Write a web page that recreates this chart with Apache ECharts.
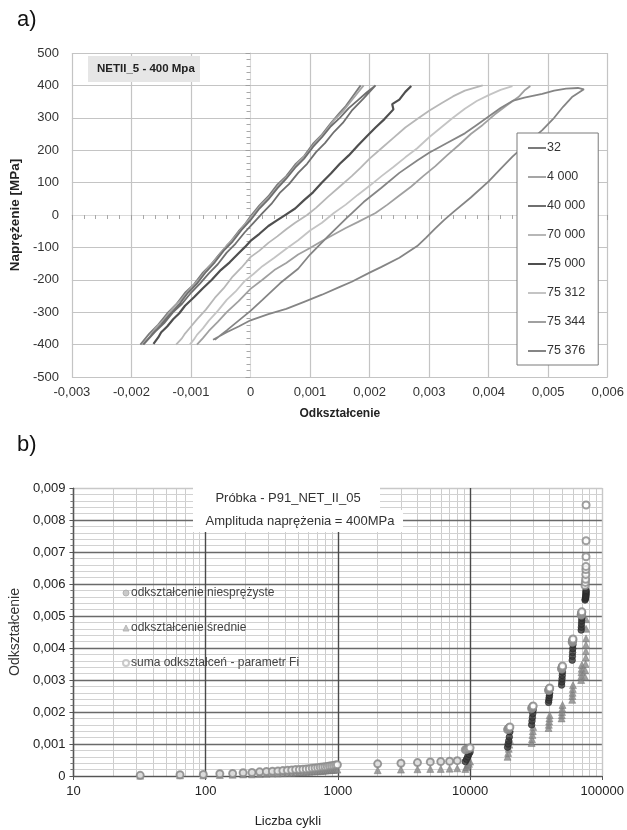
<!DOCTYPE html>
<html><head><meta charset="utf-8">
<script src="https://cdn.jsdelivr.net/npm/echarts@6/dist/echarts.min.js"></script>
<style>html,body{margin:0;padding:0;background:#fff}#c{width:627px;height:830px}</style>
</head><body><div id="c"></div>
<script>
// ---------- chart a) : hysteresis branches [strain, stress MPa] ----------
const legendA = ['32', '4 000', '40 000', '70 000', '75 000', '75 312', '75 344', '75 376'];
const colorsA = ['#7b7b7b', '#a5a5a5', '#6f6f6f', '#b7b7b7', '#4f4f4f', '#c4c4c4', '#a0a0a0', '#858585'];
const c32 = [[-0.00185,-400],[-0.0017,-366],[-0.00155,-338],[-0.0014,-304],[-0.00125,-276],[-0.0011,-240],[-0.00095,-214],[-0.0008,-178],[-0.00065,-150],[-0.0005,-116],[-0.00035,-86],[-0.0002,-50],[-0.0001,-30],[0,-4],[0.00015,30],[0.0003,58],[0.00045,94],[0.0006,120],[0.00075,156],[0.0009,182],[0.00105,220],[0.0012,248],[0.00135,284],[0.0015,316],[0.0016,336],[0.0017,362],[0.00185,400]];
const c4000 = [[-0.00182,-400],[-0.0017,-378],[-0.0016,-350],[-0.00145,-322],[-0.0013,-286],[-0.00115,-258],[-0.001,-224],[-0.00085,-196],[-0.0007,-160],[-0.00055,-130],[-0.0004,-94],[-0.00025,-66],[-0.0001,-30],[0.00005,2],[0.0002,36],[0.00035,62],[0.0005,98],[0.00065,126],[0.0008,162],[0.00095,190],[0.0011,226],[0.00125,256],[0.0014,292],[0.00155,320],[0.0017,354],[0.0019,400]];
const c40000 = [[-0.0018,-400],[-0.0016,-360],[-0.00145,-334],[-0.0013,-300],[-0.00115,-274],[-0.001,-240],[-0.00085,-212],[-0.0007,-180],[-0.00055,-152],[-0.0004,-116],[-0.00025,-88],[-0.0001,-54],[0.00005,-24],[0.0002,6],[0.00035,34],[0.0005,70],[0.00065,96],[0.0008,130],[0.00095,158],[0.0011,194],[0.00125,222],[0.0014,256],[0.00155,284],[0.0017,322],[0.0019,360],[0.0021,400],
  [0.00195,378],[0.0018,354],[0.00165,330],[0.0015,300],[0.00135,274],[0.0012,240],[0.00105,210],[0.0009,174],[0.00075,146],[0.0006,112],[0.00045,82],[0.0003,48],[0.00015,20],[0,-16],[-0.00015,-46],[-0.0003,-82],[-0.00045,-110],[-0.0006,-146],[-0.00075,-176],[-0.0009,-212],[-0.00105,-240],[-0.0012,-276],[-0.00135,-306],[-0.0015,-338],[-0.00165,-368],[-0.0018,-400]];
const c70000 = [[-0.00125,-400],[-0.00115,-380],[-0.0011,-366],[-0.001,-344],[-0.0009,-322],[-0.00075,-292],[-0.0006,-256],[-0.00045,-226],[-0.0003,-190],[-0.00015,-162],[0,-130],[0.00015,-110],[0.0003,-86],[0.00045,-66],[0.0006,-44],[0.00075,-24],[0.00095,0],[0.0011,22],[0.0013,56],[0.0015,88],[0.0017,120],[0.00185,146],[0.002,174],[0.0022,206],[0.0024,238],[0.0026,270],[0.0028,296],[0.003,322],[0.0032,344],[0.0034,366],[0.0036,384],[0.0039,400]];
const c75000 = [[-0.00163,-398],[-0.00155,-378],[-0.0015,-362],[-0.0014,-344],[-0.0013,-322],[-0.0012,-304],[-0.0011,-280],[-0.00095,-254],[-0.0008,-226],[-0.00065,-200],[-0.0005,-170],[-0.00035,-146],[-0.0002,-118],[-0.0001,-100],[0,-80],[0.00015,-58],[0.0003,-34],[0.00045,-16],[0.0006,2],[0.00075,20],[0.0009,46],[0.00105,70],[0.0012,100],[0.00135,128],[0.0015,158],[0.00165,184],[0.0018,214],[0.00195,242],[0.0021,270],[0.00225,296],[0.0024,326],[0.00238,342],[0.0025,356],[0.0026,380],[0.0027,398]];
const c75312 = [[-0.00102,-400],[-0.00095,-384],[-0.0009,-370],[-0.0008,-350],[-0.0007,-326],[-0.00055,-296],[-0.0004,-262],[-0.00025,-236],[-0.0001,-204],[0.00005,-182],[0.0002,-158],[0.0004,-132],[0.0006,-104],[0.0008,-78],[0.001,-48],[0.0012,-24],[0.0014,6],[0.0016,32],[0.0018,62],[0.002,90],[0.0022,120],[0.0024,148],[0.0026,178],[0.0028,206],[0.003,240],[0.0032,270],[0.0034,300],[0.0036,328],[0.0038,352],[0.004,370],[0.0042,386],[0.0044,398]];
const c75344 = [[-0.0009,-400],[-0.0008,-380],[-0.0007,-358],[-0.00055,-330],[-0.0004,-300],[-0.0002,-266],[0,-228],[0.0002,-200],[0.0004,-170],[0.0006,-148],[0.0008,-122],[0.001,-102],[0.0012,-80],[0.0014,-60],[0.0016,-40],[0.0018,-22],[0.0021,6],[0.0023,32],[0.0025,60],[0.0027,88],[0.0029,120],[0.0031,150],[0.0033,184],[0.0035,216],[0.0037,250],[0.0039,278],[0.0041,310],[0.0043,338],[0.0045,364],[0.0046,384],[0.0047,398]];
const c75376 = [[-0.00063,-385],[-0.0005,-372],[-0.0004,-362],[-0.0002,-344],[0,-325],[0.0003,-306],[0.0006,-290],[0.0009,-268],[0.0012,-246],[0.0015,-222],[0.0017,-206],[0.002,-178],[0.0022,-160],[0.0025,-132],[0.0028,-96],[0.00295,-70],[0.0031,-42],[0.00325,-16],[0.0034,8],[0.0037,54],[0.004,104],[0.0042,142],[0.0044,180],[0.00465,222],[0.0049,262],[0.0051,300],[0.00525,334],[0.0054,364],[0.0056,388],
  [0.0055,392],[0.0053,390],[0.0051,384],[0.0049,374],[0.0046,362],[0.0044,352],[0.0042,330],[0.004,304],[0.0038,278],[0.0036,252],[0.0033,222],[0.003,192],[0.0028,168],[0.0025,130],[0.0022,84],[0.0019,40],[0.0016,-12],[0.0013,-66],[0.001,-122],[0.0008,-166],[0.0005,-210],[0.0002,-262],[0,-296],[-0.0002,-326],[-0.0004,-356],[-0.0006,-385]];
const curvesA = [c32, c4000, c40000, c70000, c75000, c75312, c75344, c75376];

// ---------- chart b) : strain vs number of cycles ----------
const cycles = [32,64,96,128,160,192,224,256,288,320,352,384,416,448,480,512,544,576,608,640,672,704,736,768,800,832,864,896,928,960,992,
  2000,3000,4000,5000,6000,7000,8000,
  9200,9400,9600,9800,10000,
  19200,19400,19600,19800,20000,
  29200,29400,29600,29800,30000,
  39200,39400,39600,39800,40000,
  49200,49400,49600,49800,50000,
  59200,59400,59600,59800,60000,
  69200,69400,69600,69800,70000,
  74000,74400,74800,75000,75100,75200,75300,75344,75376];
const niesprezyste = [0.00002,0.00004,0.00005,0.00007,0.00008,0.0001,0.00011,0.00013,0.00014,0.00015,0.00016,0.00017,0.00018,0.00019,0.0002,0.0002,0.00021,0.00022,0.00023,0.00024,0.00025,0.00026,0.00027,0.00028,0.00029,0.0003,0.00031,0.00032,0.00033,0.00034,0.00035,
  0.00038,0.0004,0.00042,0.00044,0.00045,0.00046,0.00048,
  0.00045,0.00052,0.0006,0.00068,0.00075,
  0.0009,0.001,0.0011,0.00122,0.00138,
  0.0016,0.00172,0.00183,0.00195,0.00206,
  0.0023,0.00237,0.00245,0.00252,0.0026,
  0.00284,0.00294,0.00304,0.00314,0.00325,
  0.00362,0.00374,0.00386,0.00398,0.0041,
  0.00456,0.00465,0.00475,0.00485,0.00494,
  0.0055,0.00553,0.00557,0.0056,0.00564,0.00568,0.00572,0.00576,0.0058];
const srednie = [0.00001,0.00002,0.00002,0.00003,0.00004,0.00005,0.00005,0.00006,0.00007,0.00008,0.00008,0.00009,0.0001,0.0001,0.00011,0.00012,0.00012,0.00013,0.00013,0.00014,0.00015,0.00015,0.00016,0.00016,0.00017,0.00018,0.00018,0.00019,0.00019,0.0002,0.0002,
  0.00018,0.0002,0.00021,0.00022,0.00022,0.00023,0.00024,
  0.00022,0.00028,0.00033,0.00038,0.00045,
  0.0006,0.00072,0.00085,0.00098,0.00112,
  0.00103,0.00115,0.00128,0.0014,0.00153,
  0.0015,0.0016,0.0017,0.0018,0.0019,
  0.0018,0.0019,0.002,0.0021,0.00222,
  0.00238,0.0025,0.0026,0.00272,0.00284,
  0.003,0.00312,0.00324,0.00335,0.00347,
  0.0031,0.0033,0.0035,0.0037,0.0039,0.0041,0.0043,0.0046,0.0049];
const suma = [0.00002,0.00004,0.00005,0.00007,0.00008,0.0001,0.00011,0.00013,0.00014,0.00015,0.00016,0.00017,0.00018,0.00019,0.0002,0.0002,0.00021,0.00022,0.00023,0.00024,0.00025,0.00026,0.00027,0.00028,0.00029,0.0003,0.00031,0.00032,0.00033,0.00034,0.00035,
  0.00038,0.0004,0.00042,0.00044,0.00045,0.00046,0.00048,
  0.00082,0.00083,0.00085,0.00086,0.00088,
  0.00145,0.00147,0.00149,0.00151,0.00153,
  0.00211,0.00213,0.00215,0.00217,0.00219,
  0.00267,0.00269,0.00271,0.00273,0.00275,
  0.00334,0.00336,0.00339,0.00341,0.00344,
  0.00418,0.0042,0.00423,0.00425,0.00428,
  0.00503,0.00505,0.00508,0.0051,0.00513,
  0.00595,0.00605,0.00615,0.0063,0.00645,0.00655,0.00685,0.00735,0.00847];
const legendB = ['odkształcenie niesprężyste', 'odkształcenie średnie', 'suma odkształceń - parametr Fi'];
const minorCycles = [20,30,40,50,60,70,80,90,200,300,400,500,600,700,800,900,2000,3000,4000,5000,6000,7000,8000,9000,20000,30000,40000,50000,60000,70000,80000,90000];

// ---------- build ----------
const FONT = 'Liberation Sans, Arial, sans-serif';
const fmtDec = v => Math.abs(v) < 1e-12 ? '0' : v.toFixed(3).replace('.', ',');
const xColorsA = ['#c4c4c4','#c4c4c4','#c4c4c4','#ececec','#c4c4c4','#c4c4c4','#c4c4c4','#c4c4c4','#c4c4c4','#c4c4c4'];
const yColorsA = ['#c4c4c4','#c4c4c4','#c4c4c4','#c4c4c4','#c4c4c4','#ececec','#c4c4c4','#c4c4c4','#c4c4c4','#c4c4c4','#c4c4c4'];
const yColorsB = ['#6a6a6a','#6a6a6a','#6a6a6a','#6a6a6a','#6a6a6a','#6a6a6a','#6a6a6a','#6a6a6a','#6a6a6a','#c8c8c8'];
const xColorsB = ['#4a4a4a','#4a4a4a','#4a4a4a','#4a4a4a','#c8c8c8'];

const seriesA = curvesA.map((d, i) => ({
  name: legendA[i], type: 'line', xAxisIndex: 0, yAxisIndex: 0, data: d,
  showSymbol: false, symbol: 'none', smooth: false, z: 3,
  lineStyle: { color: colorsA[i], width: i === 4 ? 2.2 : 1.8 }, itemStyle: { color: colorsA[i] }
}));
const pairs = arr => cycles.map((c, i) => [c, arr[i]]);
const seriesB = [
  { name: 'grid-minor', type: 'scatter', xAxisIndex: 2, yAxisIndex: 2, data: [], silent: true,
    markLine: { silent: true, z: -1, symbol: ['none','none'], label: { show: false }, animation: false,
      lineStyle: { color: '#cdcdcd', width: 1, type: 'solid' }, emphasis: { disabled: true },
      data: minorCycles.map(v => ({ xAxis: v })) } },
  { name: legendB[1], type: 'scatter', xAxisIndex: 2, yAxisIndex: 2, data: pairs(srednie), symbol: 'triangle', symbolSize: 7,
    itemStyle: { color: '#8a8a8a', borderColor: '#767676', borderWidth: 0.6 }, z: 3 },
  { name: legendB[0], type: 'scatter', xAxisIndex: 2, yAxisIndex: 2, data: pairs(niesprezyste), symbol: 'circle', symbolSize: 6.5,
    itemStyle: { color: '#383838', borderColor: '#262626', borderWidth: 0.8 }, z: 4 },
  { name: legendB[2], type: 'scatter', xAxisIndex: 2, yAxisIndex: 2, data: pairs(suma), symbol: 'emptyCircle', symbolSize: 7,
    itemStyle: { color: '#8a8a8a', borderWidth: 1.2 }, z: 5 }
];

const chart = echarts.init(document.getElementById('c'), null, { renderer: 'canvas' });
chart.setOption({
  animation: false,
  backgroundColor: '#ffffff',
  textStyle: { fontFamily: FONT },
  grid: [
    { left: 68, top: 53, width: 540, height: 324 },
    { left: 68, top: 488, width: 540, height: 288 }
  ],
  legend: [
    { data: legendA, orient: 'vertical', left: 517, top: 133, padding: [8, 13, 7, 11], itemGap: 15,
      itemWidth: 18, itemHeight: 2, icon: 'rect', backgroundColor: '#fff', borderColor: '#7a7a7a', borderWidth: 1,
      textStyle: { fontSize: 12.5, color: '#333', fontFamily: FONT, lineHeight: 14, padding: [0, 0, 0, -4] }, selectedMode: false },
    { data: legendB, orient: 'vertical', left: 122, top: 586, padding: 0, itemGap: 21, itemWidth: 6, itemHeight: 6,
      textStyle: { fontSize: 12, color: '#444', fontFamily: FONT, lineHeight: 14, padding: [0, 0, 0, -3] }, selectedMode: false,
      itemStyle: { color: '#bdbdbd', borderColor: '#aaa', borderWidth: 1 } }
  ],
  xAxis: [
    { gridIndex: 0, type: 'value', min: -0.003, max: 0.006, interval: 0.001, position: 'bottom',
      axisLine: { show: false, onZero: false }, axisTick: { show: false },
      axisLabel: { formatter: fmtDec, color: '#333', fontSize: 13, margin: 9, fontFamily: FONT },
      splitLine: { show: true, lineStyle: { color: xColorsA, width: 1.2 } },
      name: 'Odkształcenie', nameLocation: 'middle', nameGap: 31,
      nameTextStyle: { fontWeight: 'bold', fontSize: 12, color: '#222', fontFamily: FONT } },
    { gridIndex: 0, type: 'value', min: -0.003, max: 0.006, interval: 0.001, position: 'bottom',
      axisLine: { show: true, onZero: true, lineStyle: { color: '#dadada', width: 1 } },
      axisTick: { show: true, length: 5, inside: false, lineStyle: { color: '#a0a0a0' } },
      minorTick: { show: true, splitNumber: 5, length: 4, lineStyle: { color: '#a8a8a8' } },
      axisLabel: { show: false }, splitLine: { show: false } },
    { gridIndex: 1, type: 'log', logBase: 10, min: 10, max: 100000, position: 'bottom',
      axisLine: { show: true, lineStyle: { color: '#555', width: 1.2 } },
      axisTick: { show: true, length: 4, lineStyle: { color: '#555' } },
      axisLabel: { color: '#222', fontSize: 13, margin: 9, fontFamily: FONT, formatter: v => String(Math.round(v)) },
      splitLine: { show: true, lineStyle: { color: xColorsB, width: 1.4 } },
      minorTick: { show: false }, minorSplitLine: { show: false },
      name: 'Liczba cykli', nameLocation: 'middle', nameGap: 39,
      nameTextStyle: { fontSize: 13, color: '#222', fontFamily: FONT, padding: [0, 100, 0, 0] } }
  ],
  yAxis: [
    { gridIndex: 0, type: 'value', min: -500, max: 500, interval: 100, position: 'left',
      axisLine: { show: false, onZero: false }, axisTick: { show: false },
      axisLabel: { color: '#333', fontSize: 13, margin: 13, fontFamily: FONT },
      splitLine: { show: true, lineStyle: { color: yColorsA, width: 1.2 } },
      name: 'Naprężenie [MPa]', nameLocation: 'middle', nameGap: 46, nameRotate: 90,
      nameTextStyle: { fontWeight: 'bold', fontSize: 13.5, color: '#222', fontFamily: FONT } },
    { gridIndex: 0, type: 'value', min: -500, max: 500, interval: 100, position: 'left',
      axisLine: { show: true, onZero: true, lineStyle: { color: '#dadada', width: 1 } },
      axisTick: { show: true, length: 5, lineStyle: { color: '#a0a0a0' } },
      minorTick: { show: true, splitNumber: 5, length: 4, lineStyle: { color: '#a8a8a8' } },
      axisLabel: { show: false }, splitLine: { show: false } },
    { gridIndex: 1, type: 'value', min: 0, max: 0.009, interval: 0.001, position: 'left',
      axisLine: { show: true, lineStyle: { color: '#555', width: 1.2 } },
      axisTick: { show: true, length: 4, lineStyle: { color: '#555' } },
      minorTick: { show: true, splitNumber: 5, length: 3, lineStyle: { color: '#777' } },
      axisLabel: { formatter: fmtDec, color: '#222', fontSize: 13, margin: 8, fontFamily: FONT },
      splitLine: { show: true, lineStyle: { color: yColorsB, width: 1.4 } },
      minorSplitLine: { show: true, lineStyle: { color: '#d2d2d2', width: 1 } },
      name: 'Odkształcenie', nameLocation: 'middle', nameGap: 47, nameRotate: 90,
      nameTextStyle: { fontSize: 14, color: '#333', fontFamily: FONT } }
  ],
  graphic: [
    { type: 'text', left: 17, top: 9, z: 100, style: { text: 'a)', font: '22px ' + FONT, fill: '#111' } },
    { type: 'text', left: 17, top: 434, z: 100, style: { text: 'b)', font: '22px ' + FONT, fill: '#111' } },
    { type: 'rect', shape: { x: 88, y: 56, width: 112, height: 26 }, z: 100, style: { fill: '#e6e6e6' } },
    { type: 'text', x: 97, y: 69, z: 101, style: { text: 'NETII_5 - 400 Mpa', font: 'bold 11.5px ' + FONT, fill: '#222', verticalAlign: 'middle' } },
    { type: 'rect', shape: { x: 193, y: 486, width: 187, height: 24 }, z: 100, style: { fill: '#fff' } },
    { type: 'rect', shape: { x: 193, y: 510, width: 210, height: 22 }, z: 100, style: { fill: '#fff' } },
    { type: 'text', x: 288, y: 498, z: 101, style: { text: 'Próbka - P91_NET_II_05', font: '13px ' + FONT, fill: '#333', align: 'center', verticalAlign: 'middle' } },
    { type: 'text', x: 300, y: 521, z: 101, style: { text: 'Amplituda naprężenia = 400MPa', font: '13px ' + FONT, fill: '#333', align: 'center', verticalAlign: 'middle' } }
  ],
  series: seriesA.concat(seriesB)
});
</script></body></html>
